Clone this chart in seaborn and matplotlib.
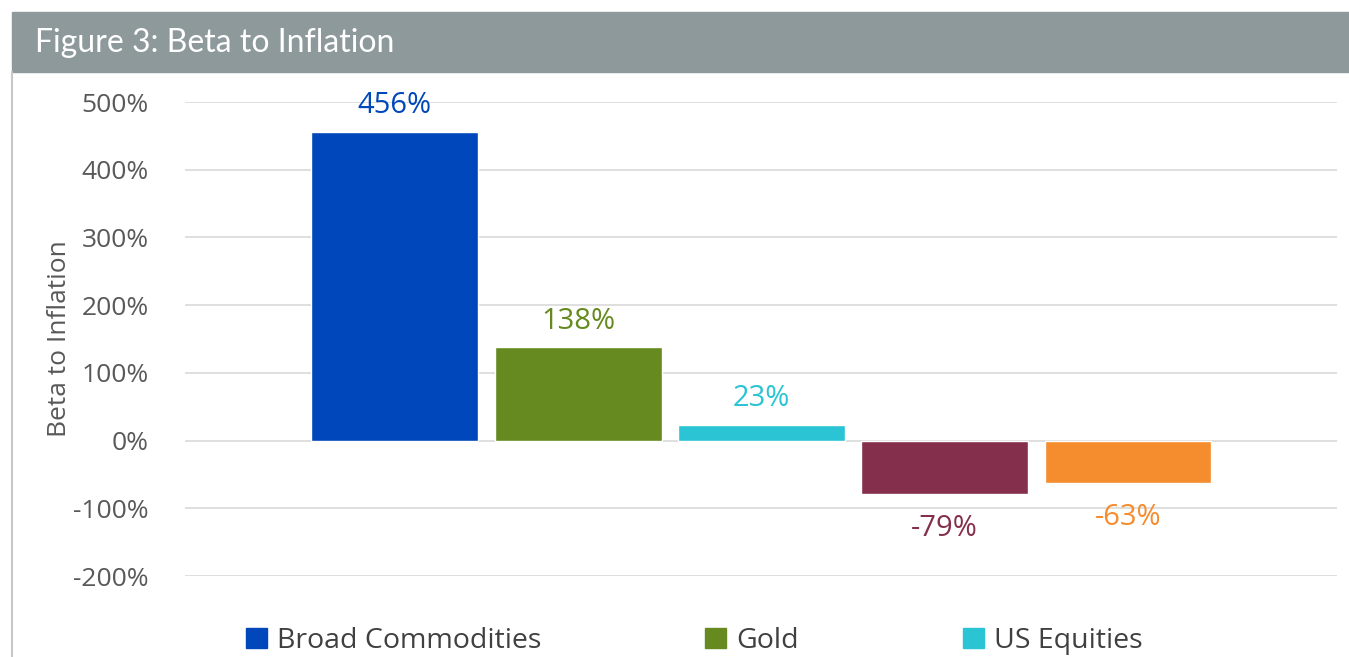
import matplotlib.pyplot as plt
import matplotlib.patches as mpatches
import seaborn as sns
import pandas as pd

# data
categories = ["Broad Commodities", "Gold", "US Equities", "Category 4", "Category 5"]
beta = [456, 138, 23, -79, -63]
colors = ["#0047BB", "#668A1F", "#2BC4D4", "#84304D", "#F58C2E"]
legend_names = ["Broad Commodities", "Gold", "US Equities"]
yticks = [-200, -100, 0, 100, 200, 300, 400, 500]

df = pd.DataFrame({"category": categories, "beta": beta})

sns.set_style("white")
plt.rcParams["font.family"] = ["Lato", "DejaVu Sans"]
body = ["Open Sans", "DejaVu Sans"]

W, H = 1349, 657
fig = plt.figure(figsize=(W / 100, H / 100), dpi=100)
ax = fig.add_axes([185 / W, 1 - 576 / H, (1337 - 185) / W, (576 - 102) / H])

sns.barplot(data=df, x="category", y="beta", hue="category", palette=colors,
            width=0.91, legend=False, ax=ax, saturation=1)

# value labels
for i, (v, c) in enumerate(zip(beta, colors)):
    if v >= 0:
        ax.text(i, v + 17, f"{v}%", ha="center", va="bottom", color=c,
                fontsize=21, family=body)
    else:
        ax.text(i, v - 51, f"{v}%", ha="center", va="center", color=c,
                fontsize=21, family=body)

ax.set_ylim(-200, 500)
ax.set_xlim(-1.145, 5.14)
ax.set_yticks(yticks)
ax.set_yticklabels([f"{t}%" for t in yticks], fontsize=19, color="#595959", family=body)
ax.set_xticks([])
ax.set_xlabel("")
ax.set_ylabel("Beta to Inflation", fontsize=19, color="#595959", family=body)
ax.yaxis.set_label_coords(-0.098, 0.5)
ax.tick_params(axis="y", length=0, pad=26)
ax.grid(axis="y", color="#d9d9d9", linewidth=1.2)
ax.set_axisbelow(True)
for s in ax.spines.values():
    s.set_visible(False)

# header band
fig.patches.append(mpatches.Rectangle((12 / W, 1 - 72 / H), 1 - 12 / W, 60 / H,
                                      transform=fig.transFigure, color="#8E999C", zorder=0))
fig.text(35 / W, 1 - 43 / H, "Figure 3: Beta to Inflation", color="white",
         fontsize=23, va="center", ha="left")
fig.add_artist(plt.Line2D([12 / W, 12 / W], [0, 1 - 72 / H], transform=fig.transFigure,
                          color="#c8c8c8", linewidth=1.5))

# legend (only first row visible in the reference)
handles = [mpatches.Patch(color=c, label=n) for c, n in zip(colors, legend_names)]
fig.legend(handles=handles, loc="center left", bbox_to_anchor=(220 / W, 1 - 641 / H),
           ncol=3, frameon=False, handlelength=0.75, handleheight=0.75,
           handletextpad=0.35, columnspacing=5.75, labelcolor="#404040",
           prop={"family": body, "size": 20.5})

fig.savefig("out.png", dpi=100)
